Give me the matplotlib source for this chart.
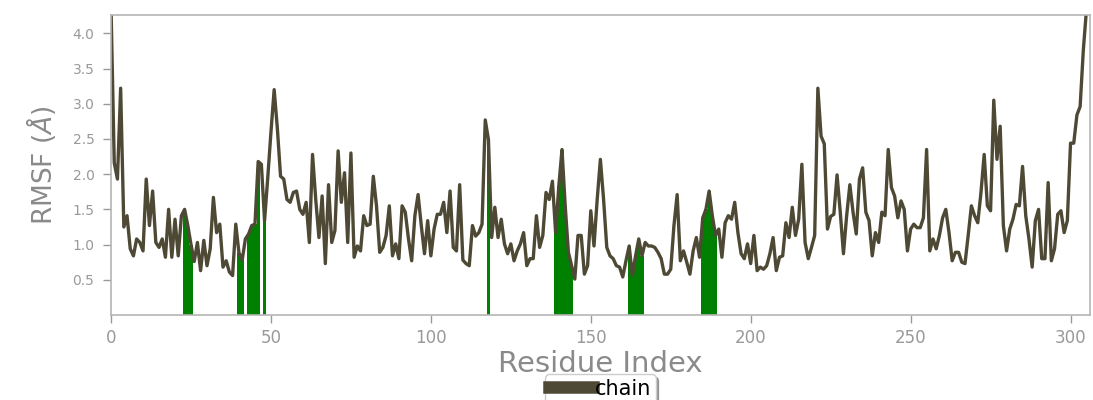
import numpy as np
import matplotlib
matplotlib.use('Agg')
import matplotlib.pyplot as plt
from matplotlib import font_manager

# RMSF per residue
rmsf = [4.35, 2.16, 1.93, 3.22, 1.25, 1.41, 0.94, 0.84, 1.08, 1.03,
        0.91, 1.93, 1.27, 1.76, 1.03, 0.96, 1.08, 0.82, 1.50, 0.82,
        1.36, 0.84, 1.41, 1.50, 1.27, 1.00, 0.76, 1.03, 0.63, 1.06,
        0.70, 0.94, 1.67, 1.17, 1.29, 0.68, 0.77, 0.61, 0.56, 1.29,
        0.88, 0.78, 1.08, 1.15, 1.27, 1.29, 2.18, 2.14, 1.34, 1.95,
        2.60, 3.20, 2.65, 1.97, 1.93, 1.64, 1.60, 1.74, 1.76, 1.50,
        1.43, 1.60, 1.03, 2.28, 1.64, 1.10, 1.69, 0.73, 1.85, 1.03,
        1.20, 2.33, 1.60, 2.02, 1.03, 2.30, 0.82, 0.98, 0.91, 1.41,
        1.27, 1.29, 1.97, 1.55, 0.89, 0.96, 1.13, 1.55, 0.84, 1.01,
        0.80, 1.55, 1.46, 1.08, 0.77, 1.41, 1.71, 1.27, 0.87, 1.34,
        0.84, 1.22, 1.43, 1.43, 1.60, 1.17, 1.76, 0.96, 0.91, 1.85,
        0.78, 0.73, 0.70, 1.27, 1.12, 1.17, 1.29, 2.77, 2.49, 1.10,
        1.53, 1.10, 1.36, 1.01, 0.87, 1.01, 0.77, 0.91, 1.01, 1.17,
        0.70, 0.80, 0.80, 1.41, 0.96, 1.13, 1.74, 1.64, 1.90, 1.17,
        1.83, 2.35, 1.55, 0.89, 0.70, 0.51, 1.13, 1.13, 0.58, 0.70,
        1.48, 0.98, 1.64, 2.21, 1.64, 0.96, 0.84, 0.80, 0.70, 0.68,
        0.54, 0.77, 0.98, 0.56, 0.84, 1.08, 0.84, 1.03, 0.98, 0.98,
        0.96, 0.89, 0.80, 0.58, 0.58, 0.65, 1.27, 1.71, 0.77, 0.91,
        0.75, 0.58, 0.91, 1.10, 0.82, 1.38, 1.50, 1.76, 1.41, 1.13,
        1.22, 0.82, 1.31, 1.41, 1.36, 1.60, 1.17, 0.87, 0.80, 1.01,
        0.73, 1.13, 0.63, 0.68, 0.65, 0.70, 0.87, 1.10, 0.63, 0.82,
        0.84, 1.31, 1.10, 1.53, 1.13, 1.36, 2.14, 1.03, 0.80, 0.96,
        1.13, 3.22, 2.54, 2.43, 1.22, 1.40, 1.43, 1.99, 1.46, 0.87,
        1.41, 1.85, 1.46, 1.15, 1.93, 2.09, 1.46, 1.34, 0.84, 1.17,
        1.03, 1.46, 1.41, 2.35, 1.81, 1.69, 1.38, 1.62, 1.50, 0.91,
        1.22, 1.29, 1.24, 1.24, 1.38, 2.35, 0.91, 1.08, 0.94, 1.13,
        1.38, 1.50, 1.17, 0.77, 0.89, 0.89, 0.75, 0.73, 1.13, 1.55,
        1.41, 1.31, 1.74, 2.28, 1.55, 1.48, 3.05, 2.21, 2.68, 1.27,
        0.91, 1.22, 1.36, 1.57, 1.55, 2.11, 1.41, 1.08, 0.68, 1.34,
        1.50, 0.80, 0.80, 1.88, 0.77, 0.94, 1.43, 1.48, 1.17, 1.34,
        2.44, 2.44, 2.84, 2.96, 3.76, 4.35]
residues = np.arange(len(rmsf))
rmsf = np.array(rmsf)

# residues shaded in green
contacts = [23, 24, 25, 40, 41, 43, 44, 45, 46, 48, 118,
            139, 140, 141, 142, 143, 144, 162, 163, 164, 165, 166,
            185, 186, 187, 188, 189]

names = {f.name for f in font_manager.fontManager.ttflist}
narrow = 'Liberation Sans Narrow' if 'Liberation Sans Narrow' in names else 'DejaVu Sans'

fig = plt.figure(figsize=(10.93, 4.0), dpi=100)
ax = fig.add_axes([0.1016, 0.2125, 0.8954, 0.75])

ax.bar(contacts, rmsf[contacts], width=1.0, color='green', zorder=1)
ax.plot(residues, rmsf, color='#4e4934', lw=2.4, label='chain', zorder=2)

ax.set_xlim(0, 306)
ax.set_ylim(0, 4.26)
ax.set_xticks([0, 50, 100, 150, 200, 250, 300])
ax.set_yticks([0.5, 1.0, 1.5, 2.0, 2.5, 3.0, 3.5, 4.0])

grey = '#999999'
for s in ax.spines.values():
    s.set_color('#b5b5b5')
    s.set_linewidth(1.2)
ax.tick_params(colors=grey, length=6, width=1, direction='out')
ax.tick_params(axis='y', labelsize=10, pad=6)
ax.tick_params(axis='x', labelsize=12, pad=4)

ax.set_xlabel('Residue Index', fontsize=21, color='#8a8a8a', labelpad=2)
ax.set_ylabel(r'RMSF ($\AA$)', fontsize=19, color='#8a8a8a',
              family=narrow, labelpad=10)

leg = ax.legend(loc='upper center', bbox_to_anchor=(0.5, -0.198), fontsize=15,
                shadow=True, fancybox=True, handlelength=2.1,
                handletextpad=0.1, borderpad=0.2, borderaxespad=0)
leg.get_lines()[0].set_linewidth(9)

fig.savefig('out.png', dpi=100)
